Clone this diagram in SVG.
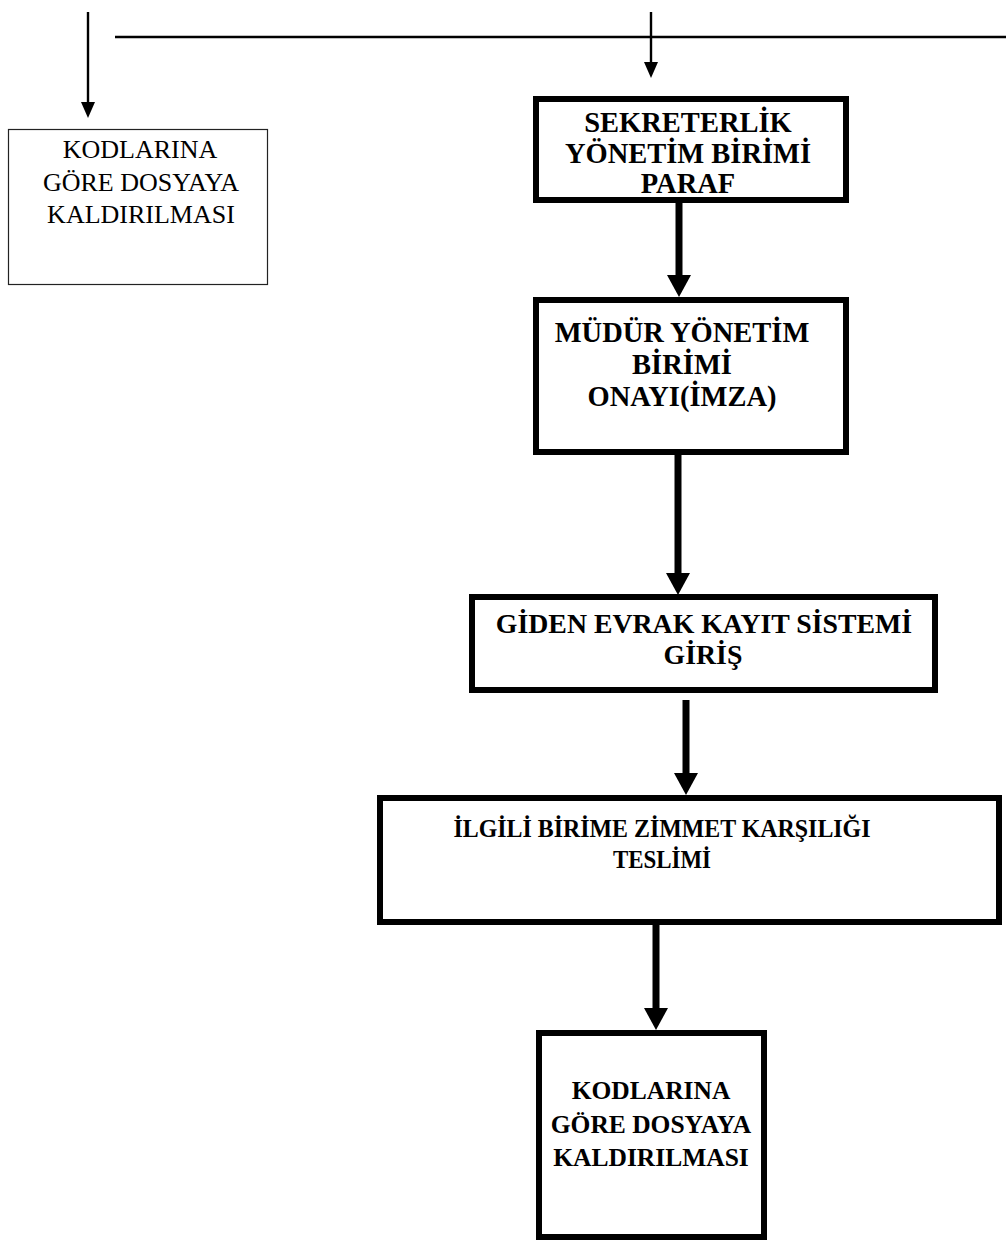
<svg xmlns="http://www.w3.org/2000/svg" width="1006" height="1250" viewBox="0 0 1006 1250">
<style>
.bg{fill:#fff}
.box{fill:#fff;stroke:#000;stroke-width:6}
.thinbox{fill:#fff;stroke:#222;stroke-width:1.2}
.t{font-family:'Liberation Serif','Times New Roman',Times,serif;font-weight:bold;fill:#000;text-anchor:middle}
.tr{font-family:'Liberation Serif','Times New Roman',Times,serif;font-size:26px;fill:#000;text-anchor:middle}
.thick{stroke:#000;stroke-width:7;fill:none}
.thin{stroke:#000;stroke-width:2.4;fill:none}
</style>
<defs>
<marker id="headBig" viewBox="0 0 22 24" refX="2" refY="12" markerWidth="22" markerHeight="24" markerUnits="userSpaceOnUse" orient="auto">
<path d="M0,0 L22,12 L0,24 z" fill="#000"/>
</marker>
<marker id="headSmall" viewBox="0 0 16 14" refX="1" refY="7" markerWidth="16" markerHeight="14" markerUnits="userSpaceOnUse" orient="auto">
<path d="M0,0 L16,7 L0,14 z" fill="#000"/>
</marker>
</defs>
<rect class="bg" x="0" y="0" width="1006" height="1250"/>

<g id="connectors">
<line class="thin" x1="115" y1="37" x2="1006" y2="37"/>
<line class="thin" x1="88" y1="12" x2="88" y2="103" marker-end="url(#headSmall)"/>
<line class="thin" x1="651" y1="12" x2="651" y2="63" marker-end="url(#headSmall)"/>
<line class="thick" x1="679" y1="203" x2="679" y2="277" marker-end="url(#headBig)"/>
<line class="thick" x1="678" y1="455" x2="678" y2="575" marker-end="url(#headBig)"/>
<line class="thick" x1="686" y1="700" x2="686" y2="775" marker-end="url(#headBig)"/>
<line class="thick" x1="656" y1="925" x2="656" y2="1010" marker-end="url(#headBig)"/>
</g>

<g id="node-left">
<rect class="thinbox" x="8.5" y="129.5" width="259" height="155"/>
<text class="tr" x="140" y="158">KODLARINA</text>
<text class="tr" x="141" y="191">GÖRE DOSYAYA</text>
<text class="tr" x="141" y="223">KALDIRILMASI</text>
</g>

<g id="node-sekreterlik" font-size="28.5">
<rect class="box" x="536" y="99" width="310" height="101"/>
<text class="t" x="688" y="132">SEKRETERLİK</text>
<text class="t" x="688" y="163">YÖNETİM BİRİMİ</text>
<text class="t" x="688" y="193">PARAF</text>
</g>

<g id="node-mudur" font-size="28.5">
<rect class="box" x="536" y="300" width="310" height="152"/>
<text class="t" x="682" y="342">MÜDÜR YÖNETİM</text>
<text class="t" x="682" y="374">BİRİMİ</text>
<text class="t" x="682" y="406">ONAYI(İMZA)</text>
</g>

<g id="node-giden" font-size="27.8">
<rect class="box" x="472" y="597" width="463" height="93"/>
<text class="t" x="704" y="633">GİDEN EVRAK KAYIT SİSTEMİ</text>
<text class="t" x="703" y="664">GİRİŞ</text>
</g>

<g id="node-ilgili" font-size="26">
<rect class="box" x="380" y="798" width="619" height="124"/>
<text class="t" x="662" y="837" textLength="417" lengthAdjust="spacingAndGlyphs">İLGİLİ BİRİME ZİMMET KARŞILIĞI</text>
<text class="t" x="662" y="868" textLength="98" lengthAdjust="spacingAndGlyphs">TESLİMİ</text>
</g>

<g id="node-kodlarina" font-size="25.5">
<rect class="box" x="539" y="1033" width="225" height="204"/>
<text class="t" x="651" y="1099">KODLARINA</text>
<text class="t" x="651" y="1133">GÖRE DOSYAYA</text>
<text class="t" x="651" y="1166">KALDIRILMASI</text>
</g>
</svg>
